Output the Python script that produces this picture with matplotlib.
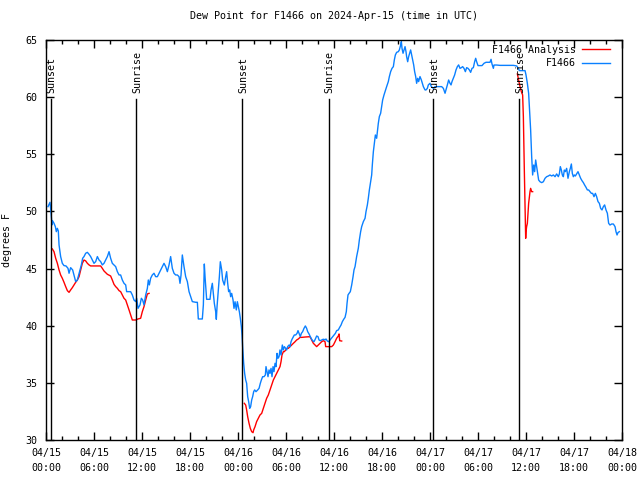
import numpy as np
import matplotlib
matplotlib.use("Agg")
import matplotlib.pyplot as plt
from matplotlib.ticker import MultipleLocator

# hours since 2024-04-15 00:00 UTC, dew point in degrees F
obs_hours = [
    0.25, 0.5, 0.58, 0.75, 0.83, 1.0, 1.17, 1.29, 1.42, 1.54, 1.63, 1.83, 2.04, 2.25, 2.5, 2.75, 2.88,
    3.08, 3.33, 3.5, 3.71, 3.92, 4.08, 4.25, 4.42, 4.58, 4.75, 4.96, 5.17, 5.38, 5.58, 5.79, 6.0,
    6.21, 6.42, 6.63, 6.83, 7.04, 7.25, 7.46, 7.67, 7.88, 8.08, 8.29, 8.5, 8.71, 8.92, 9.13, 9.33,
    9.54, 9.75, 9.96, 10.08, 10.38, 10.58, 10.79, 11.0, 11.21, 11.33, 11.5, 11.75, 11.92, 12.08,
    12.25, 12.46, 12.67, 12.79, 12.92, 13.08, 13.29, 13.5, 13.71, 13.92, 14.13, 14.33, 14.54, 14.75,
    14.96, 15.17, 15.38, 15.58, 15.79, 16.0, 16.21, 16.42, 16.63, 16.75, 16.88, 17.04, 17.25, 17.46,
    17.67, 17.88, 18.08, 18.29, 18.71, 18.92, 19.04, 19.54, 19.67, 19.79, 19.88, 20.0, 20.08, 20.5,
    20.63, 20.79, 20.92, 21.04, 21.21, 21.29, 21.38, 21.54, 21.67, 21.79, 21.96, 22.08, 22.29, 22.46,
    22.58, 22.71, 22.83, 22.96, 23.08, 23.21, 23.38, 23.5, 23.63, 23.79, 23.92, 24.04, 24.17, 24.29,
    24.42, 24.5, 24.58, 24.71, 24.83, 24.96, 25.08, 25.21, 25.33, 25.46, 25.58, 25.71, 25.83, 25.96,
    26.08, 26.25, 26.46, 26.63, 26.79, 26.92, 27.08, 27.25, 27.42, 27.5, 27.63, 27.75, 27.88, 28.0,
    28.13, 28.25, 28.38, 28.5, 28.63, 28.75, 28.88, 29.0, 29.13, 29.25, 29.38, 29.54, 29.67, 29.79,
    29.96, 30.08, 30.21, 30.38, 30.5, 30.63, 30.75, 30.92, 31.04, 31.21, 31.38, 31.5, 31.63, 31.79,
    31.92, 32.08, 32.25, 32.42, 32.58, 32.71, 32.88, 33.04, 33.21, 33.33, 33.5, 33.67, 33.83, 34.0,
    34.13, 34.29, 34.46, 34.63, 34.75, 34.88, 35.0, 35.17, 35.33, 35.5, 35.67, 35.83, 36.0, 36.17,
    36.33, 36.54, 36.71, 36.88, 37.04, 37.21, 37.38, 37.54, 37.63, 37.75, 37.88, 38.04, 38.21, 38.38,
    38.5, 38.63, 38.83, 39.04, 39.17, 39.33, 39.46, 39.67, 39.88, 40.0, 40.17, 40.29, 40.42, 40.58,
    40.71, 40.79, 40.92, 41.04, 41.17, 41.33, 41.42, 41.54, 41.67, 41.83, 41.96, 42.08, 42.25, 42.38,
    42.58, 42.79, 42.92, 43.08, 43.25, 43.42, 43.54, 43.67, 43.83, 44.04, 44.17, 44.33, 44.42, 44.5,
    44.63, 44.75, 44.88, 45.0, 45.08, 45.21, 45.33, 45.46, 45.58, 45.71, 45.83, 45.96, 46.08, 46.21,
    46.33, 46.46, 46.58, 46.75, 46.92, 47.04, 47.17, 47.38, 47.5, 47.67, 47.79, 48.0, 48.17, 48.42,
    48.63, 48.83, 49.04, 49.25, 49.46, 49.67, 49.88, 50.0, 50.17, 50.33, 50.5, 50.63, 50.75, 50.92,
    51.08, 51.25, 51.42, 51.58, 51.75, 51.92, 52.08, 52.25, 52.42, 52.58, 52.75, 52.92, 53.08, 53.25,
    53.42, 53.58, 53.71, 53.83, 54.0, 54.25, 54.5, 54.75, 55.0, 55.29, 55.5, 55.63, 55.75, 55.92,
    56.0, 56.33, 56.75, 57.17, 57.58, 58.0, 58.42, 58.83, 59.04, 59.17, 59.46, 59.88, 60.0, 60.17,
    60.33, 60.46, 60.58, 60.71, 60.83, 60.96, 61.08, 61.21, 61.33, 61.46, 61.58, 61.75, 61.96, 62.17,
    62.38, 62.58, 62.79, 63.0, 63.21, 63.42, 63.63, 63.83, 64.04, 64.17, 64.29, 64.42, 64.54, 64.67,
    64.79, 64.92, 65.08, 65.25, 65.42, 65.54, 65.67, 65.79, 65.92, 66.04, 66.17, 66.33, 66.5, 66.67,
    66.83, 67.0, 67.17, 67.33, 67.5, 67.67, 67.83, 68.0, 68.17, 68.33, 68.5, 68.67, 68.83, 69.0,
    69.17, 69.33, 69.5, 69.67, 69.83, 70.0, 70.17, 70.33, 70.5, 70.71, 70.92, 71.13, 71.25, 71.38,
    71.5, 71.67,
]
obs_dewpt = [
    50.42, 50.8, 50.27, 48.82, 49.17, 48.96, 48.67, 48.23, 48.52, 48.29, 47.07, 46.05, 45.46, 45.26, 45.23, 45.02, 44.59,
    45.08, 44.88, 44.44, 43.86, 44.0, 44.44, 44.88, 45.32, 45.9, 46.05, 46.34, 46.42, 46.25, 46.05, 45.75, 45.46,
    45.61, 46.05, 45.75, 45.61, 45.32, 45.46, 45.75, 46.05, 46.48, 45.9, 45.46, 45.32, 45.17, 44.73, 44.44, 44.44,
    44.0, 43.71, 43.57, 42.98, 42.98, 42.98, 42.69, 42.25, 42.11, 42.4, 41.52, 41.82, 42.4, 42.25,
    41.82, 42.69, 43.27, 44.0, 43.57, 44.15, 44.44, 44.59, 44.29, 44.29, 44.59, 44.88, 45.17, 45.46,
    45.17, 44.73, 45.32, 46.05, 45.02, 44.59, 44.44, 44.44, 44.29, 43.71, 44.44, 46.19, 45.17, 44.29,
    43.86, 42.98, 42.54, 42.11, 42.05, 42.05, 40.59, 40.59, 41.82, 45.4, 44.29, 43.13, 42.31, 42.31,
    43.13, 43.71, 42.83, 41.96, 41.23, 40.56, 41.67, 43.13, 44.29, 45.6, 44.88, 44.0, 43.56, 44.29,
    44.73, 43.71, 42.98, 43.13, 42.54, 42.83, 42.25, 41.52, 42.1, 41.38, 42.1, 41.67, 41.23, 40.65,
    39.92, 39.19, 38.17, 36.71, 35.83, 35.25, 34.96, 33.79, 33.36, 32.77, 32.92, 33.5, 33.79, 34.23,
    34.38, 34.23, 34.38, 34.52, 34.96, 35.25, 35.54, 35.54, 35.69, 36.42, 35.98, 35.54, 36.13, 35.83,
    36.27, 35.54, 36.42, 35.98, 36.71, 36.42, 37.58, 37.15, 37.29, 37.88, 37.44, 38.31, 37.88, 38.17,
    38.02, 37.88, 38.17, 38.31, 38.17, 38.6, 38.81, 39.04, 39.19, 39.19, 39.33, 39.57, 39.33, 39.04,
    39.33, 39.48, 39.77, 39.98, 39.77, 39.48, 39.28, 39.04, 38.81, 38.69, 38.6, 38.84, 39.1, 39.04,
    38.75, 38.69, 38.75, 38.81, 38.81, 38.75, 38.84, 38.66, 38.6, 38.75, 38.9, 39.04, 39.19, 39.33,
    39.57, 39.63, 39.86, 40.06, 40.35, 40.56, 40.73, 41.23, 41.96, 42.69, 42.83, 42.98, 43.56, 44.29,
    44.88, 45.17, 46.05, 46.78, 47.51, 48.23, 48.67, 49.11, 49.4, 49.98, 50.57, 51.15, 51.88, 52.61,
    53.19, 54.07, 55.23, 55.96, 56.69, 56.4, 56.98, 57.71, 58.3, 58.59, 59.17, 59.75, 60.19, 60.48,
    60.92, 61.36, 61.8, 62.23, 62.52, 62.67, 63.25, 63.69, 63.92, 63.98, 64.13, 64.56, 64.86, 64.27,
    63.84, 64.13, 64.42, 63.98, 63.54, 63.1, 63.54, 63.84, 64.13, 63.69, 63.25, 62.82, 62.23, 61.8,
    61.21, 61.65, 61.36, 61.8, 61.5, 61.21, 60.92, 60.63, 60.63, 60.77, 61.07, 61.21, 60.92, 60.77,
    60.92, 60.92, 60.92, 60.92, 60.92, 60.77, 60.34, 60.63, 61.07, 61.5, 61.21, 61.07, 61.36, 61.65,
    61.94, 62.38, 62.67, 62.82, 62.52, 62.58, 62.67, 62.52, 62.23, 62.58, 62.52, 62.38, 62.17, 62.52,
    62.58, 63.1, 63.4, 63.1, 62.76, 62.76, 62.76, 62.96, 63.05, 63.05, 63.05, 63.31, 62.9, 62.52,
    62.81, 62.81, 62.78, 62.78, 62.78, 62.78, 62.78, 62.73, 62.52, 62.32, 62.32, 62.32, 61.94, 61.21,
    60.33, 58.73, 57.13, 54.79, 53.19, 54.06, 53.48, 54.5, 53.92, 53.33, 52.75, 52.6, 52.52, 52.6,
    52.9, 53.04, 53.1, 53.19, 53.1, 53.19, 53.04, 53.28, 53.04, 53.28, 53.92, 53.62, 53.19, 53.04,
    53.62, 53.48, 53.77, 52.9, 53.48, 53.77, 54.15, 53.33, 53.04, 53.19, 53.1, 53.28, 53.48, 53.19,
    52.9, 52.69, 52.52, 52.31, 52.11, 51.88, 51.88, 51.73, 51.58, 51.58, 51.29, 51.58, 51.29, 50.86,
    50.71, 50.27, 50.13, 50.42, 50.57, 50.13, 49.84, 48.96, 48.81, 48.9, 48.9, 48.67, 48.23, 47.94,
    48.15, 48.23,
]

# analysis series, three separate pieces
ana_hours_1 = [
    0.79, 1.0, 1.21, 1.42, 1.63, 1.83, 2.04, 2.25, 2.46, 2.67, 2.88, 3.08, 3.29, 3.5, 3.71, 3.92,
    4.13, 4.33, 4.54, 4.75, 4.96, 5.17, 5.38, 5.58, 6.63, 6.83, 7.04, 7.25, 7.46, 7.67, 8.08, 8.29,
    8.5, 8.71, 8.92, 9.13, 9.33, 9.54, 9.75, 9.96, 10.17, 10.38, 10.58, 10.79, 11.21, 11.5, 11.83,
    12.04, 12.25, 12.46, 12.67, 12.88,
]
ana_dewpt_1 = [
    46.72, 46.48, 45.9, 45.46, 44.88, 44.44, 44.15, 43.8, 43.42, 43.07, 42.92, 43.13, 43.33, 43.57, 43.8, 44.0,
    44.29, 44.88, 45.46, 45.75, 45.67, 45.46, 45.32, 45.23, 45.23, 45.23, 45.02, 44.79, 44.64, 44.5, 44.35, 44.0,
    43.62, 43.42, 43.27, 43.07, 42.98, 42.69, 42.4, 42.25, 41.82, 41.38, 40.94, 40.5, 40.5, 40.59, 40.65,
    41.23, 41.67, 42.25, 42.78, 42.83,
]
ana_hours_2 = [
    24.79, 24.96, 25.08, 25.21, 25.38, 25.54, 25.71, 25.88, 25.96, 26.13, 26.33, 26.54, 26.75, 26.96,
    27.17, 27.38, 27.58, 27.79, 28.0, 28.21, 28.42, 28.63, 28.83, 29.04, 29.25, 29.38, 29.5, 29.67,
    29.79, 29.96, 30.13, 30.29, 30.5, 30.71, 30.92, 31.13, 31.33, 31.54, 31.75, 31.96, 32.38, 33.0,
    33.21, 33.42, 33.63, 33.83, 34.04, 34.25, 34.46, 34.67, 34.88, 34.96, 35.21, 35.71, 35.92, 36.13,
    36.33, 36.54, 36.63, 36.71, 36.96,
]
ana_dewpt_2 = [
    33.21, 33.06, 32.63, 32.04, 31.46, 31.02, 30.73, 30.64, 30.88, 31.17, 31.61, 31.9, 32.19, 32.33,
    32.77, 33.21, 33.65, 33.94, 34.38, 34.81, 35.25, 35.54, 35.83, 36.13, 36.42, 36.86, 37.44, 37.73,
    37.73, 37.88, 38.02, 38.02, 38.17, 38.31, 38.46, 38.6, 38.75, 38.84, 38.98, 38.98, 39.01, 39.04,
    38.75, 38.46, 38.31, 38.17, 38.31, 38.46, 38.6, 38.69, 38.6, 38.17, 38.17, 38.17, 38.31, 38.6,
    38.9, 39.1, 39.28, 38.69, 38.66,
]
ana_hours_3 = [
    58.92, 59.08, 59.25, 59.42, 59.58, 59.67, 59.71, 59.79, 59.88, 59.96, 60.0, 60.08, 60.17, 60.25,
    60.33, 60.42, 60.5, 60.58, 60.71, 60.83,
]
ana_dewpt_3 = [
    62.03, 61.5, 60.92, 60.48, 60.19, 58.29, 56.54, 53.63, 50.42, 47.65, 48.23, 48.67, 48.96, 49.84,
    50.71, 51.29, 51.73, 52.02, 51.73, 51.73,
]

sun_hours = [0.58, 11.31, 24.54, 35.34, 48.42, 59.16]
sun_labels = ["Sunset", "Sunrise", "Sunset", "Sunrise", "Sunset", "Sunrise"]

tick_hours = list(range(0, 73, 6))
tick_labels = ["04/15\n00:00", "04/15\n06:00", "04/15\n12:00", "04/15\n18:00",
               "04/16\n00:00", "04/16\n06:00", "04/16\n12:00", "04/16\n18:00",
               "04/17\n00:00", "04/17\n06:00", "04/17\n12:00", "04/17\n18:00",
               "04/18\n00:00"]

plt.rcParams["font.family"] = "DejaVu Sans Mono"
plt.rcParams["font.size"] = 7.2

fig = plt.figure(figsize=(6.4, 4.8), dpi=100)
ax = fig.add_axes([46 / 640, 40 / 480, 576 / 640, 400 / 480])

ana_hours = ana_hours_1 + [np.nan] + ana_hours_2 + [np.nan] + ana_hours_3
ana_dewpt = ana_dewpt_1 + [np.nan] + ana_dewpt_2 + [np.nan] + ana_dewpt_3

ax.plot(ana_hours, ana_dewpt, color="#ff0000", lw=1.0, label="F1466 Analysis")
ax.plot(obs_hours, obs_dewpt, color="#0a80ff", lw=1.0, label="F1466")

for h, lab in zip(sun_hours, sun_labels):
    ax.plot([h, h], [30, 59.8], color="black", lw=1.0)
    ax.text(h + 0.1, 60.35, lab, rotation=90, ha="center", va="bottom")

ax.set_xlim(0, 72)
ax.set_ylim(30, 65)
ax.set_xticks(tick_hours)
ax.set_xticklabels(tick_labels, linespacing=1.6)
ax.xaxis.set_minor_locator(MultipleLocator(2))
ax.set_yticks(range(30, 66, 5))
ax.tick_params(which="both", direction="in", top=True, right=True, width=1)
ax.tick_params(which="major", length=6, pad=6)
ax.tick_params(which="minor", length=3)
for s in ax.spines.values():
    s.set_linewidth(1.0)

ax.set_title("Dew Point for F1466 on 2024-Apr-15 (time in UTC)", fontsize=7.2, pad=15)
ax.set_ylabel("degrees F", labelpad=10)

ax.legend(loc="upper right", bbox_to_anchor=(1.0, 1.0 + 7 / 400), frameon=False,
          markerfirst=False, handlelength=2.8, borderaxespad=0.8, labelspacing=0.35,
          handletextpad=0.6)

fig.savefig("out.png", dpi=100)
